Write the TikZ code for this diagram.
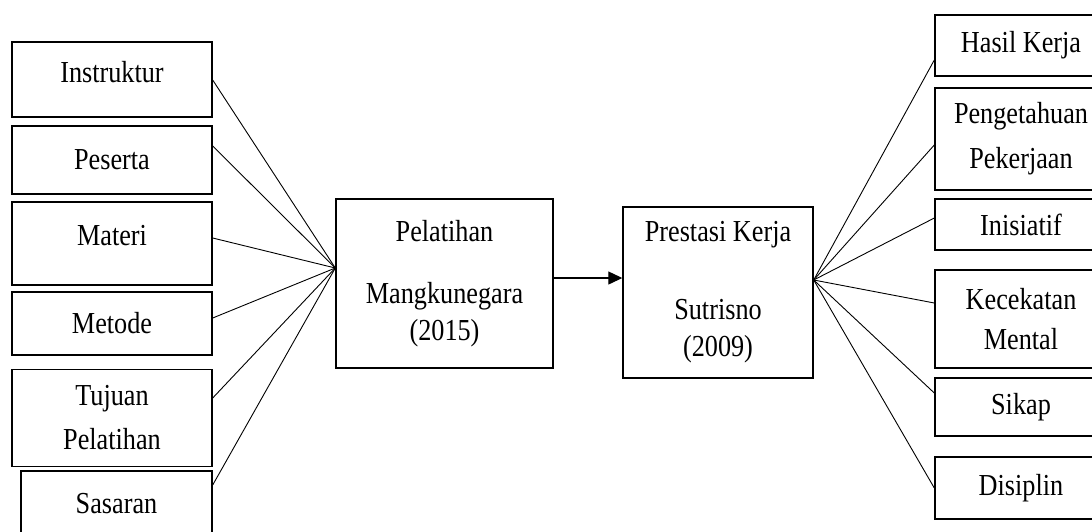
\documentclass[tikz,border=0pt]{standalone}
\usepackage{fontspec}
\setmainfont{Liberation Serif}[FakeStretch=0.86]
\usetikzlibrary{arrows.meta}
\begin{document}
\begin{tikzpicture}[%
  box/.style = {rectangle, draw, line width = 1.4pt, inner sep = 0pt, align = center,
    font = \fontsize{30.5}{40}\selectfont},
  raised/.style = {text depth = #1},
  link/.style = {line width = 0.9pt},
  x = 1pt, y = -1pt]
  \useasboundingbox (0, 0) rectangle (1092, 531);

  \node[box, minimum width = 200pt, minimum height = 75pt, raised = 15pt] (instr) at (112, 79.5) {Instruktur};
  \node[box, minimum width = 200pt, minimum height = 68pt] (pes)  at (112, 160) {Peserta};
  \node[box, minimum width = 200pt, minimum height = 83pt, raised = 17pt] (mat) at (112, 243.5) {Materi};
  \node[box, minimum width = 200pt, minimum height = 63pt] (met)  at (112, 323.5) {Metode};
  \node[box, minimum width = 200pt, minimum height = 97pt, font = \fontsize{30.5}{44}\selectfont] (tuj) at (112, 418) {Tujuan\\Pelatihan};
  \node[box, minimum width = 191pt, minimum height = 74pt, raised = 10pt] (sas) at (116.5, 508) {Sasaran};

  \node[box, minimum width = 217pt, minimum height = 169pt, font = \fontsize{30.5}{37}\selectfont] (train) at (444.5, 283.5)
    {Pelatihan\\[25pt]Mangkunegara\\(2015)};
  \node[box, minimum width = 190pt, minimum height = 171pt, font = \fontsize{30.5}{37}\selectfont] (perf) at (718, 292.5)
    {Prestasi Kerja\\[41pt]Sutrisno\\(2009)};

  \node[box, minimum width = 172pt, minimum height = 61pt]  (hasil) at (1021, 45.5) {Hasil Kerja};
  \node[box, minimum width = 172pt, minimum height = 102pt, font = \fontsize{30.5}{45}\selectfont] (peng) at (1021, 139) {Pengetahuan\\Pekerjaan};
  \node[box, minimum width = 172pt, minimum height = 51pt]  (inis)  at (1021, 224.5) {Inisiatif};
  \node[box, minimum width = 172pt, minimum height = 98pt]  (kec)   at (1021, 319) {Kecekatan\\Mental};
  \node[box, minimum width = 172pt, minimum height = 58pt]  (sikap) at (1021, 407) {Sikap};
  \node[box, minimum width = 172pt, minimum height = 62pt]  (disc)  at (1021, 488) {Disiplin};

  \coordinate (pinL) at ([yshift = 15.5pt]train.west);
  \coordinate (pinR) at ([yshift = 12.5pt]perf.east);

  \draw[link] ([yshift = -0.5pt]instr.east) -- (pinL);
  \draw[link] ([yshift = 14pt]pes.east) -- (pinL);
  \draw[link] ([yshift = 5.5pt]mat.east) -- (pinL);
  \draw[link] ([yshift = 5.5pt]met.east) -- (pinL);
  \draw[link] ([yshift = 20pt]tuj.east) -- (pinL);
  \draw[link] ([yshift = 23pt]sas.east) -- (pinL);

  \draw[link, line width = 1.2pt, -{Triangle[length = 14pt, width = 13pt]}] ([yshift = 5.5pt]train.east) -- ([yshift = 5.5pt]train.east -| perf.west);

  \draw[link] (pinR) -- ([yshift = -14.5pt]hasil.west);
  \draw[link] (pinR) -- ([yshift = -6pt]peng.west);
  \draw[link] (pinR) -- ([yshift = 6.5pt]inis.west);
  \draw[link] (pinR) -- ([yshift = 16pt]kec.west);
  \draw[link] (pinR) -- ([yshift = 14pt]sikap.west);
  \draw[link] (pinR) -- (disc.west);
\end{tikzpicture}
\end{document}
